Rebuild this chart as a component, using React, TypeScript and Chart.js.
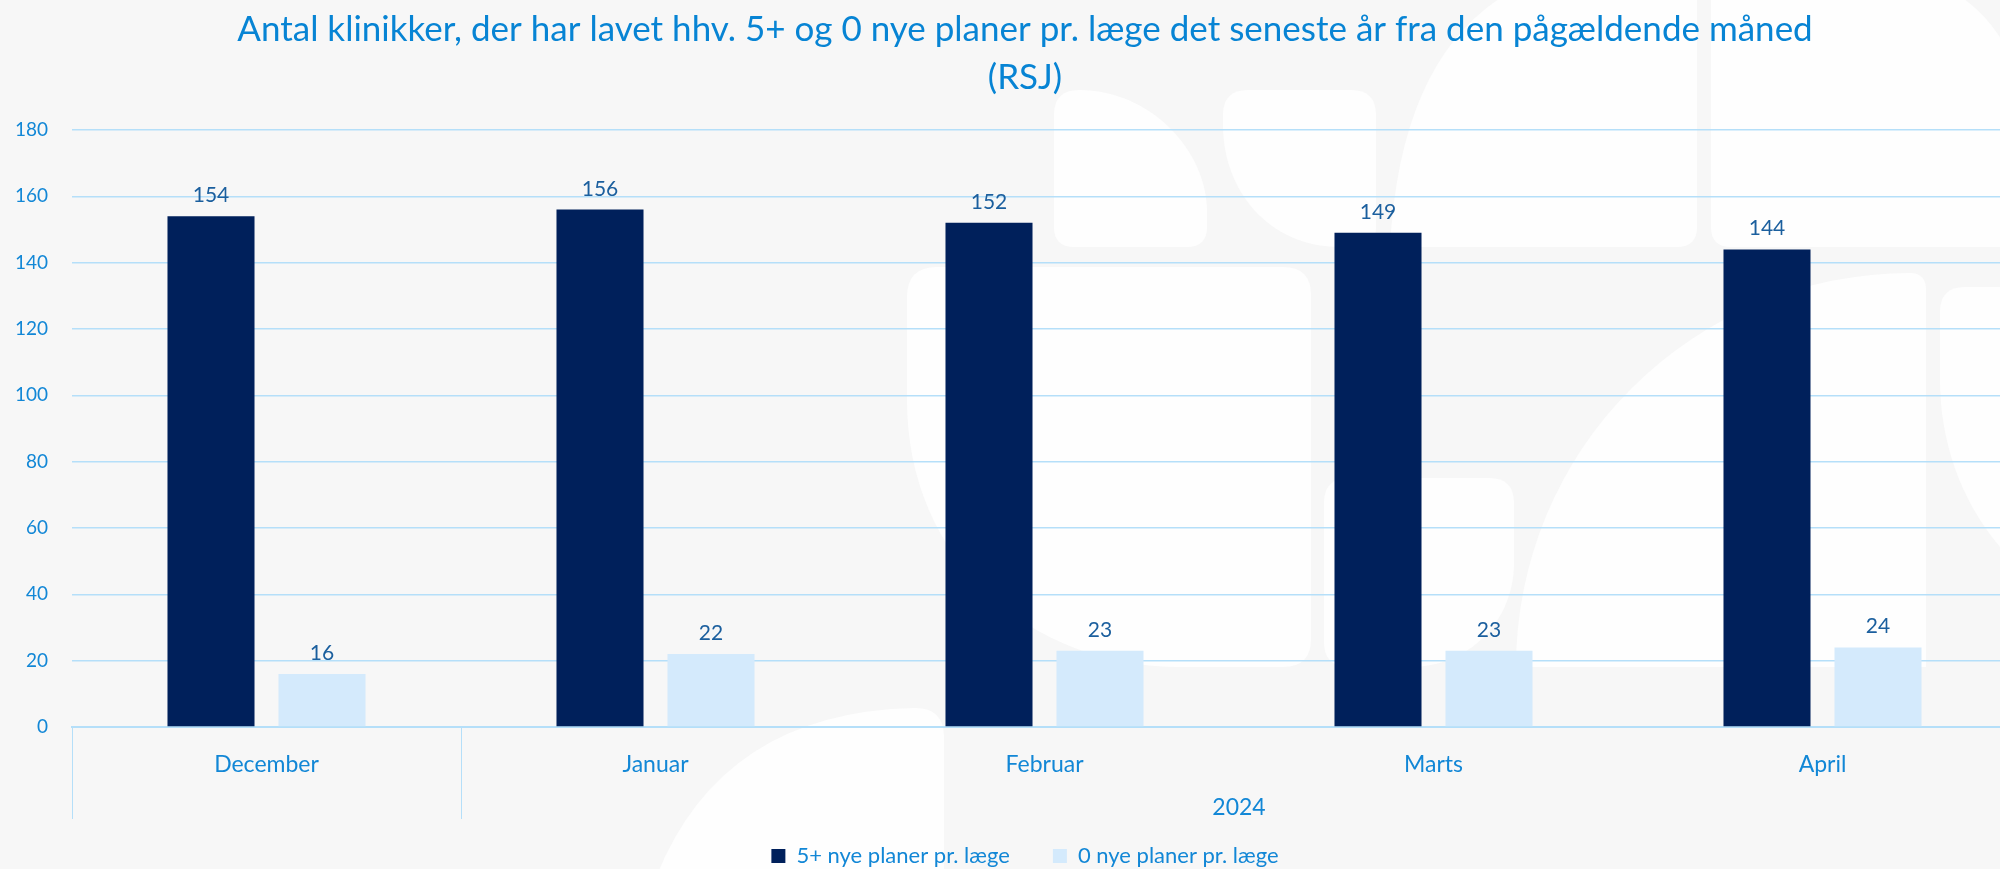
import React, { useEffect, useRef } from 'react';
import { Chart, registerables } from 'chart.js';

Chart.register(...registerables);

// ---------- data ----------
const categories = ['December', 'Januar', 'Februar', 'Marts', 'April'];
const yearGroups = ['', '2024', '2024', '2024', '2024'];
const seriesNames = ['5+ nye planer pr. læge', '0 nye planer pr. læge'];
const fivePlusPlans = [154, 156, 152, 149, 144];
const zeroPlans = [16, 22, 23, 23, 24];
const titleLines = [
  'Antal klinikker, der har lavet hhv. 5+ og 0 nye planer pr. læge det seneste år fra den pågældende måned',
  '(RSJ)',
];
const yMin = 0;
const yMax = 180;
const yStep = 20;

// ---------- styles ----------
const FONT = 'Lato, "Open Sans", "Noto Sans", sans-serif';
const BG = '#f7f7f7';
const SHAPE = '#fefefe';
const DARK = '#00205b';
const LIGHT = '#d4eafc';
const GRID = '#b5dff9';
const TEXT_BLUE = '#1287d6';
const TITLE_BLUE = '#0784d4';
const LABEL_BLUE = '#1b5f9e';

const backgroundPlugin = {
  id: 'bgShapes',
  beforeDraw(chart: any) {
    const ctx = chart.ctx as CanvasRenderingContext2D;
    ctx.save();
    ctx.fillStyle = BG;
    ctx.fillRect(0, 0, chart.width, chart.height);
    ctx.fillStyle = SHAPE;

    // A
    ctx.beginPath();
    ctx.moveTo(1054, 115);
    ctx.quadraticCurveTo(1054, 90, 1079, 90);
    ctx.bezierCurveTo(1150, 90, 1207, 150, 1207, 212);
    ctx.lineTo(1207, 227);
    ctx.quadraticCurveTo(1207, 247, 1187, 247);
    ctx.lineTo(1074, 247);
    ctx.quadraticCurveTo(1054, 247, 1054, 227);
    ctx.closePath();
    ctx.fill();

    // B
    ctx.beginPath();
    ctx.moveTo(1223, 115);
    ctx.quadraticCurveTo(1223, 90, 1248, 90);
    ctx.lineTo(1351, 90);
    ctx.quadraticCurveTo(1376, 90, 1376, 115);
    ctx.lineTo(1376, 227);
    ctx.quadraticCurveTo(1376, 247, 1356, 247);
    ctx.lineTo(1340, 247);
    ctx.bezierCurveTo(1268, 247, 1223, 190, 1223, 125);
    ctx.closePath();
    ctx.fill();

    // C
    ctx.beginPath();
    ctx.moveTo(1390, 247);
    ctx.quadraticCurveTo(1400, 60, 1505, -5);
    ctx.lineTo(1697, -5);
    ctx.lineTo(1697, 227);
    ctx.quadraticCurveTo(1697, 247, 1677, 247);
    ctx.closePath();
    ctx.fill();

    // D
    ctx.beginPath();
    ctx.moveTo(1711, -5);
    ctx.lineTo(1958, -5);
    ctx.quadraticCurveTo(1990, 15, 2010, 55);
    ctx.lineTo(2050, 130);
    ctx.lineTo(2050, 247);
    ctx.lineTo(1731, 247);
    ctx.quadraticCurveTo(1711, 247, 1711, 227);
    ctx.closePath();
    ctx.fill();

    // E
    ctx.beginPath();
    ctx.moveTo(907, 297);
    ctx.quadraticCurveTo(907, 267, 937, 267);
    ctx.lineTo(1283, 267);
    ctx.quadraticCurveTo(1311, 267, 1311, 295);
    ctx.lineTo(1311, 639);
    ctx.quadraticCurveTo(1311, 667, 1283, 667);
    ctx.lineTo(1180, 667);
    ctx.bezierCurveTo(1030, 667, 907, 560, 907, 400);
    ctx.closePath();
    ctx.fill();

    // F
    ctx.beginPath();
    ctx.moveTo(1324, 503);
    ctx.quadraticCurveTo(1324, 478, 1349, 478);
    ctx.lineTo(1489, 478);
    ctx.quadraticCurveTo(1514, 478, 1514, 503);
    ctx.lineTo(1514, 563);
    ctx.bezierCurveTo(1514, 620, 1470, 667, 1410, 667);
    ctx.lineTo(1349, 667);
    ctx.quadraticCurveTo(1324, 667, 1324, 642);
    ctx.closePath();
    ctx.fill();

    // G
    ctx.beginPath();
    ctx.moveTo(1916, 667);
    ctx.lineTo(1516, 667);
    ctx.arc(1910, 667, 394, Math.PI, Math.PI * 1.5);
    ctx.quadraticCurveTo(1926, 273, 1926, 290);
    ctx.lineTo(1926, 667);
    ctx.closePath();
    ctx.fill();

    // H
    ctx.beginPath();
    ctx.moveTo(1940, 312);
    ctx.quadraticCurveTo(1940, 287, 1965, 287);
    ctx.lineTo(2050, 287);
    ctx.lineTo(2050, 600);
    ctx.lineTo(2000, 547);
    ctx.bezierCurveTo(1960, 500, 1940, 440, 1940, 380);
    ctx.closePath();
    ctx.fill();

    // I
    ctx.beginPath();
    ctx.moveTo(655, 880);
    ctx.quadraticCurveTo(720, 712, 915, 708);
    ctx.quadraticCurveTo(944, 708, 944, 737);
    ctx.lineTo(944, 880);
    ctx.closePath();
    ctx.fill();

    ctx.restore();
  },
};

const dataLabelPlugin = {
  id: 'valueLabels',
  afterDatasetsDraw(chart: any) {
    const ctx = chart.ctx as CanvasRenderingContext2D;
    ctx.save();
    ctx.font = `21px ${FONT}`;
    ctx.fillStyle = LABEL_BLUE;
    ctx.textAlign = 'center';
    ctx.textBaseline = 'alphabetic';
    chart.data.datasets.forEach((ds: any, di: number) => {
      const meta = chart.getDatasetMeta(di);
      meta.data.forEach((el: any, i: number) => {
        ctx.fillText(String(ds.data[i]), el.x, el.y - 14);
      });
    });
    ctx.restore();
  },
};

const yearGroupPlugin = {
  id: 'yearGroups',
  afterDraw(chart: any) {
    const xs = chart.scales.x;
    const ctx = chart.ctx as CanvasRenderingContext2D;
    const n = categories.length;
    const band = (xs.right - xs.left) / n;
    const runs: { s: number; e: number; label: string }[] = [];
    yearGroups.forEach((g, i) => {
      const last = runs[runs.length - 1];
      if (last && last.label === g) last.e = i;
      else runs.push({ s: i, e: i, label: g });
    });
    ctx.save();
    ctx.strokeStyle = GRID;
    ctx.lineWidth = 1;
    const top = xs.top;
    const bottom = xs.top + 92;
    const drawLine = (x: number) => {
      ctx.beginPath();
      ctx.moveTo(Math.round(x) + 0.5, top);
      ctx.lineTo(Math.round(x) + 0.5, bottom);
      ctx.stroke();
    };
    ctx.font = `23px ${FONT}`;
    ctx.fillStyle = TEXT_BLUE;
    ctx.textAlign = 'center';
    ctx.textBaseline = 'middle';
    runs.forEach((r, k) => {
      const l = xs.getPixelForValue(r.s) - band / 2;
      const rr = xs.getPixelForValue(r.e) + band / 2;
      drawLine(l);
      if (k === runs.length - 1) drawLine(rr);
      if (r.label) ctx.fillText(r.label, (l + rr) / 2, top + 81);
    });
    ctx.restore();
  },
};

export default function App() {
  const canvasRef = useRef<HTMLCanvasElement | null>(null);

  useEffect(() => {
    if (!canvasRef.current) return;
    const chart = new Chart(canvasRef.current, {
      type: 'bar',
      data: {
        labels: categories,
        datasets: [
          {
            label: seriesNames[0],
            data: fivePlusPlans,
            backgroundColor: DARK,
            borderWidth: 0,
            categoryPercentage: 0.5707,
            barPercentage: 0.784,
            yAxisID: 'y',
          },
          {
            label: seriesNames[1],
            data: zeroPlans,
            backgroundColor: LIGHT,
            borderWidth: 0,
            categoryPercentage: 0.5707,
            barPercentage: 0.784,
            yAxisID: 'y',
          },
        ],
      },
      options: {
        responsive: false,
        animation: false,
        devicePixelRatio: 1,
        events: [],
        layout: { padding: 0 },
        scales: {
          x: {
            type: 'category',
            offset: true,
            grid: { display: false },
            border: { display: true, color: GRID, width: 2 },
            ticks: {
              color: TEXT_BLUE,
              font: { family: FONT, size: 23 },
              padding: 16,
              maxRotation: 0,
              autoSkip: false,
            },
            afterFit: (s: any) => {
              s.height = 75;
            },
          },
          y: {
            type: 'linear',
            position: 'left',
            min: yMin,
            max: yMax,
            ticks: {
              stepSize: yStep,
              color: TEXT_BLUE,
              font: { family: FONT, size: 19 },
              padding: 24,
            },
            grid: { color: GRID, lineWidth: 1.6, drawTicks: false },
            border: { display: false },
            afterFit: (s: any) => {
              s.width = 72;
            },
          },
          yRightSpace: {
            type: 'linear',
            position: 'right',
            display: true,
            grid: { display: false },
            border: { display: false },
            ticks: { display: false },
            afterFit: (s: any) => {
              s.width = 33;
            },
          },
        },
        plugins: {
          title: {
            display: true,
            text: titleLines,
            color: TITLE_BLUE,
            font: { family: FONT, size: 35, weight: 'normal', lineHeight: 48 / 35 },
            padding: { top: 6, bottom: 28 },
          },
          legend: {
            display: true,
            position: 'bottom',
            labels: {
              color: TEXT_BLUE,
              font: { family: FONT, size: 22 },
              boxWidth: 14,
              boxHeight: 14,
              padding: 43,
            },
          },
          tooltip: { enabled: false },
        },
      },
      plugins: [backgroundPlugin, dataLabelPlugin, yearGroupPlugin],
    } as any);
    return () => chart.destroy();
  }, []);

  return (
    <div
      style={{
        position: 'fixed',
        left: 0,
        top: 0,
        width: 2000,
        height: 869,
        overflow: 'hidden',
        background: BG,
      }}
    >
      <canvas ref={canvasRef} width={2050} height={877} style={{ display: 'block', width: 2050, height: 877 }} />
    </div>
  );
}
